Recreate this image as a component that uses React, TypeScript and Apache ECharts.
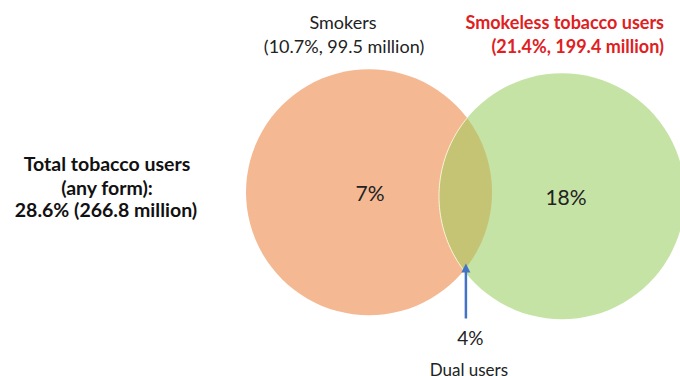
import React, { useEffect, useRef } from "react";
import * as echarts from "echarts";

// ---- data ----
const setNames = ["Smokers", "Smokeless tobacco users"];
const setPrevalence = [10.7, 21.4]; // % of adults
const setMillions = [99.5, 199.4];
const exclusiveShares = [7, 18]; // % only in each set
const dualShare = 4; // % in both
const dualLabel = "Dual users";
const totalPct = 28.6;
const totalMillions = 266.8;
const totalLines = ["Total tobacco users", "(any form):"];

// ---- layout (venn units: radius = 1) ----
const vennCenters: number[][] = [
  [0, 0],
  [1.569, -0.033],
];
const vennRadius = 1;
const fillColors = ["#F4B993", "#C6E3A6"];
const lensColor = "#C4C474";
const FONT = "Lato, 'Open Sans', sans-serif";

function circleItems(params: any, api: any) {
  const i = params.dataIndex;
  const c1 = api.coord(vennCenters[0]);
  const c2 = api.coord(vennCenters[1]);
  const r = api.size([vennRadius, 0])[0];
  if (i < 2) {
    const c = i === 0 ? c1 : c2;
    return {
      type: "group",
      children: [
        {
          type: "circle",
          shape: { cx: c[0], cy: c[1], r },
          style: { fill: fillColors[i] },
        },
      ],
    };
  }
  // lens (dual users)
  const dx = c2[0] - c1[0];
  const dy = c2[1] - c1[1];
  const d = Math.sqrt(dx * dx + dy * dy);
  const t12 = Math.atan2(dy, dx);
  const t21 = t12 + Math.PI;
  const a = Math.acos(d / (2 * r));
  const N = 60;
  const pts: number[][] = [];
  for (let k = 0; k <= N; k++) {
    const t = t12 - a + (2 * a * k) / N;
    pts.push([c1[0] + r * Math.cos(t), c1[1] + r * Math.sin(t)]);
  }
  const arc2: number[][] = [];
  for (let k = 0; k <= N; k++) {
    const t = t21 - a + (2 * a * k) / N;
    arc2.push([c2[0] + r * Math.cos(t), c2[1] + r * Math.sin(t)]);
  }
  const all = pts.concat(arc2);
  // lower intersection point (screen y larger)
  const p1 = pts[0];
  const p2 = pts[N];
  const low = p1[1] > p2[1] ? p1 : p2;
  const tipY = low[1] - 7;
  const tailY = low[1] + 48;
  const ax = low[0] + 2;
  return {
    type: "group",
    children: [
      { type: "polygon", shape: { points: all }, style: { fill: lensColor } },
      {
        type: "polyline",
        shape: { points: arc2 },
        style: { stroke: "rgba(255,250,225,0.85)", lineWidth: 1, fill: null },
      },
      {
        type: "line",
        shape: { x1: ax, y1: tailY, x2: ax, y2: tipY + 8 },
        style: { stroke: "#4472C4", lineWidth: 2.5 },
      },
      {
        type: "polygon",
        shape: {
          points: [
            [ax, tipY],
            [ax - 4.5, tipY + 9],
            [ax + 4.5, tipY + 9],
          ],
        },
        style: { fill: "#4472C4" },
      },
      {
        type: "text",
        x: ax + 4.5,
        y: tailY + 19,
        style: {
          text: dualShare + "%",
          font: `19px ${FONT}`,
          fill: "#222",
          align: "center",
          verticalAlign: "middle",
        },
      },
      {
        type: "text",
        x: ax + 3,
        y: tailY + 51,
        style: {
          text: dualLabel,
          font: `17px ${FONT}`,
          fill: "#222",
          align: "center",
          verticalAlign: "middle",
        },
      },
    ],
  };
}

function labelItems(params: any, api: any) {
  const i = params.dataIndex;
  const c = api.coord(vennCenters[i]);
  return {
    type: "text",
    x: c[0] + (i === 0 ? 1 : 4),
    y: c[1] + 0,
    style: {
      text: exclusiveShares[i] + "%",
      font: `21px ${FONT}`,
      fill: "#222",
      align: "center",
      verticalAlign: "middle",
    },
  };
}

function txt(x: number, y: number, text: string, font: string, fill: string, align = "center") {
  return {
    type: "text",
    x,
    y,
    style: { text, font, fill, align, verticalAlign: "middle" },
  };
}

export default function App() {
  const ref = useRef<HTMLDivElement>(null);
  useEffect(() => {
    document.body.style.margin = "0";
    if (!ref.current) return;
    const chart = echarts.init(ref.current, null, { renderer: "svg" });
    const topFont = `18px ${FONT}`;
    const redFont = `bold 18px ${FONT}`;
    const leftFont = `bold 19.5px ${FONT}`;
    const option: any = {
      animation: false,
      backgroundColor: "#ffffff",
      grid: { left: 123, top: 8.5, width: 553.5, height: 369 },
      xAxis: { type: "value", min: -2, max: 2.5, show: false },
      yAxis: { type: "value", min: -1.5, max: 1.5, show: false },
      series: [
        {
          type: "custom",
          coordinateSystem: "cartesian2d",
          renderItem: circleItems,
          data: [[0], [1], [2]],
          silent: true,
          clip: false,
        },
        {
          type: "custom",
          coordinateSystem: "cartesian2d",
          renderItem: labelItems,
          data: [[0], [1]],
          silent: true,
          clip: false,
        },
      ],
      graphic: [
        txt(343, 22, setNames[0], topFont, "#222"),
        txt(344, 46, `(${setPrevalence[0]}%, ${setMillions[0]} million)`, topFont, "#222"),
        txt(664, 22, setNames[1], redFont, "#E0201E", "right"),
        txt(664, 46, `(${setPrevalence[1]}%, ${setMillions[1]} million)`, redFont, "#E0201E", "right"),
        txt(107, 163, totalLines[0], leftFont, "#111"),
        txt(107, 187, totalLines[1], leftFont, "#111"),
        txt(106, 209, `${totalPct}% (${totalMillions} million)`, leftFont, "#111"),
      ],
    };
    chart.setOption(option);
    return () => chart.dispose();
  }, []);
  return <div ref={ref} style={{ width: 680, height: 376 }} />;
}
